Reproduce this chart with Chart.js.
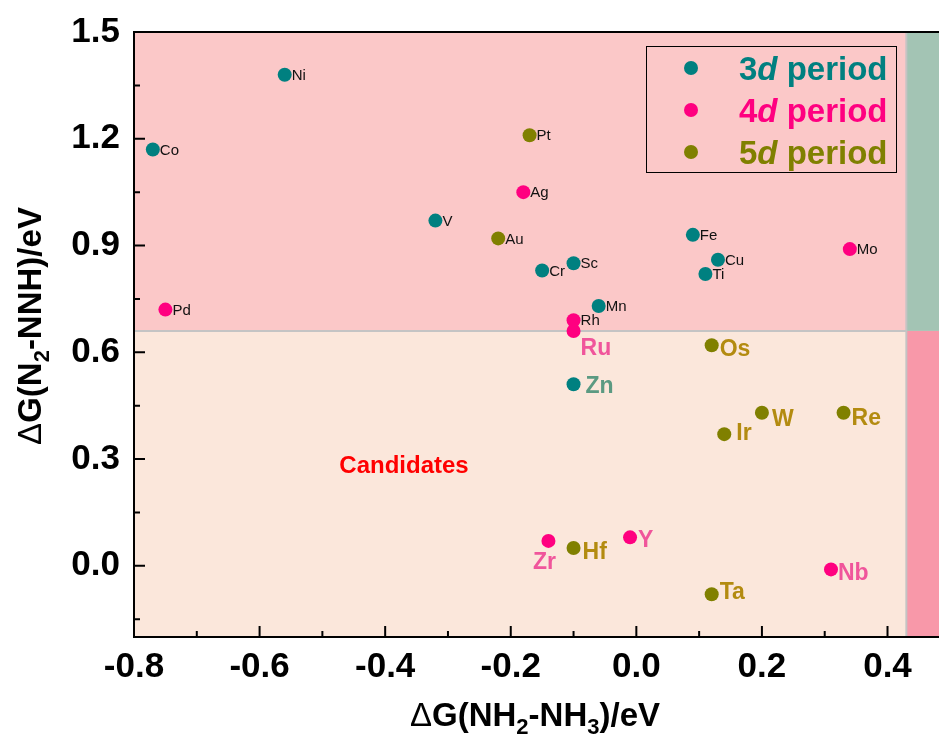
<!DOCTYPE html>
<html>
<head>
<meta charset="utf-8">
<script src="https://cdn.jsdelivr.net/npm/chart.js@4.4.1/dist/chart.umd.min.js"></script>
<style>
  body { margin: 0; background: #fff; overflow: hidden; }
  #wrap { width: 946px; height: 736px; position: relative; }
</style>
</head>
<body>
<div id="wrap"><canvas id="scatterChart"></canvas></div>
<script>
// tick labels
const xTicks = [-0.8, -0.6, -0.4, -0.2, 0.0, 0.2, 0.4]
const yTicks = [0.0, 0.3, 0.6, 0.9, 1.2, 1.5]

// 3d period
const names3d = ['Co', 'Ni', 'V', 'Sc', 'Cr', 'Mn', 'Fe', 'Cu', 'Ti', 'Zn']
const x3d = [-0.77, -0.56, -0.32, -0.10, -0.15, -0.06, 0.09, 0.13, 0.11, -0.10]
const y3d = [1.17, 1.38, 0.97, 0.85, 0.83, 0.73, 0.93, 0.86, 0.82, 0.51]

// 4d period
const names4d = ['Pd', 'Ag', 'Rh', 'Ru', 'Mo', 'Zr', 'Y', 'Nb']
const x4d = [-0.75, -0.18, -0.10, -0.10, 0.34, -0.14, -0.01, 0.31]
const y4d = [0.72, 1.05, 0.69, 0.66, 0.89, 0.07, 0.08, -0.01]

// 5d period
const names5d = ['Pt', 'Au', 'Os', 'W', 'Re', 'Ir', 'Hf', 'Ta']
const x5d = [-0.17, -0.22, 0.12, 0.20, 0.33, 0.14, -0.10, 0.12]
const y5d = [1.21, 0.92, 0.62, 0.43, 0.43, 0.37, 0.05, -0.08]

// region borders (in data units)
const xSplit = 0.43
const ySplit = 0.66

const FONT = "'Liberation Sans', Arial, sans-serif"

// bold labels in the candidate region: [dx, dy, align]
const bigLabels = {
    Ru: [7, 18, 'left'], Zn: [12, 2, 'left'], Os: [8, 4, 'left'], W: [10, 7, 'left'],
    Re: [8, 6, 'left'], Ir: [12, 0, 'left'], Zr: [-4, 22, 'center'], Hf: [9, 5, 'left'],
    Y: [8, 3, 'left'], Nb: [7, 4, 'left'], Ta: [8, -2, 'left']
}

function toPoints(names, xs, ys) {
    return names.map((n, i) => ({ x: xs[i], y: ys[i], name: n }))
}

const series = [
    { label: '3', data: toPoints(names3d, x3d, y3d), color: '#008080', labelColor: '#5B9A82' },
    { label: '4', data: toPoints(names4d, x4d, y4d), color: '#FF0080', labelColor: '#F0559B' },
    { label: '5', data: toPoints(names5d, x5d, y5d), color: '#808000', labelColor: '#B38B10' }
]

// draws text parts (normal / subscript) centred on x, baseline y
function richText(ctx, parts, x, y) {
    let w = 0
    parts.forEach(p => { ctx.font = p.font; w += ctx.measureText(p.t).width })
    let cx = x - w / 2
    parts.forEach(p => {
        ctx.font = p.font
        ctx.fillText(p.t, cx, y + (p.dy || 0))
        cx += ctx.measureText(p.t).width
    })
}

const decor = {
    id: 'decor',
    beforeDatasetsDraw(chart) {
        const ctx = chart.ctx
        const a = chart.chartArea
        const xs = chart.scales.x, ys = chart.scales.y
        const px = xs.getPixelForValue(xSplit)
        const py = ys.getPixelForValue(ySplit)
        ctx.save()
        ctx.fillStyle = '#FBC8C8'; ctx.fillRect(a.left, a.top, px - a.left, py - a.top)
        ctx.fillStyle = '#FBE7DB'; ctx.fillRect(a.left, py, px - a.left, a.bottom - py)
        ctx.fillStyle = '#A3C4B4'; ctx.fillRect(px, a.top, a.right - px, py - a.top)
        ctx.fillStyle = '#F898A9'; ctx.fillRect(px, py, a.right - px, a.bottom - py)
        ctx.strokeStyle = '#C4C4C4'
        ctx.lineWidth = 2
        ctx.beginPath()
        ctx.moveTo(a.left, py); ctx.lineTo(px, py)
        ctx.moveTo(px, a.top); ctx.lineTo(px, a.bottom)
        ctx.stroke()

        ctx.fillStyle = '#FF0000'
        ctx.font = 'bold 24px ' + FONT
        ctx.textAlign = 'center'
        ctx.textBaseline = 'middle'
        ctx.fillText('Candidates', 404, 466)
        ctx.restore()
    },
    afterDatasetsDraw(chart) {
        const ctx = chart.ctx
        const a = chart.chartArea
        const xs = chart.scales.x, ys = chart.scales.y
        ctx.save()

        // point labels
        ctx.textBaseline = 'middle'
        series.forEach((s, di) => {
            const meta = chart.getDatasetMeta(di)
            meta.data.forEach((pt, i) => {
                const name = s.data[i].name
                const big = bigLabels[name]
                if (big) {
                    ctx.font = 'bold 23px ' + FONT
                    ctx.fillStyle = s.labelColor
                    ctx.textAlign = big[2]
                    ctx.fillText(name, pt.x + big[0], pt.y + big[1])
                } else {
                    ctx.font = '15px ' + FONT
                    ctx.fillStyle = '#111'
                    ctx.textAlign = 'left'
                    ctx.fillText(name, pt.x + 7, pt.y + 1)
                }
            })
        })

        // axes and inward ticks
        ctx.strokeStyle = '#000'
        ctx.lineWidth = 2
        ctx.beginPath()
        ctx.moveTo(a.right, a.top); ctx.lineTo(a.left, a.top); ctx.lineTo(a.left, a.bottom); ctx.lineTo(a.right, a.bottom)
        xTicks.forEach(v => {
            const p = xs.getPixelForValue(v)
            ctx.moveTo(p, a.bottom); ctx.lineTo(p, a.bottom - 11)
            const m = xs.getPixelForValue(v + 0.1)
            if (m < a.right) { ctx.moveTo(m, a.bottom); ctx.lineTo(m, a.bottom - 6) }
        })
        yTicks.forEach(v => {
            const p = ys.getPixelForValue(v)
            ctx.moveTo(a.left, p); ctx.lineTo(a.left + 11, p)
            const m = ys.getPixelForValue(v - 0.15)
            if (m < a.bottom) { ctx.moveTo(a.left, m); ctx.lineTo(a.left + 6, m) }
        })
        ctx.stroke()

        // legend
        ctx.lineWidth = 1
        ctx.strokeRect(646.5, 46.5, 250, 126)
        series.forEach((s, i) => {
            const cy = 68 + i * 42
            ctx.fillStyle = s.color
            ctx.beginPath(); ctx.arc(691, cy, 7, 0, Math.PI * 2); ctx.fill()
            ctx.textAlign = 'left'
            ctx.textBaseline = 'alphabetic'
            let x = 739
            ctx.font = 'bold 33px ' + FONT
            ctx.fillText(s.label, x, cy + 12); x += ctx.measureText(s.label).width
            ctx.font = 'italic bold 33px ' + FONT
            ctx.fillText('d', x, cy + 12); x += ctx.measureText('d ').width
            ctx.font = 'bold 33px ' + FONT
            ctx.fillText('period', x, cy + 12)
        })

        // axis titles
        ctx.fillStyle = '#000'
        ctx.textAlign = 'left'
        ctx.textBaseline = 'alphabetic'
        const big = 'bold 33px ' + FONT, sub = 'bold 22px ' + FONT, delta = '33px ' + FONT
        richText(ctx, [
            { t: 'Δ', font: delta }, { t: 'G(NH', font: big }, { t: '2', font: sub, dy: 8 },
            { t: '-NH', font: big }, { t: '3', font: sub, dy: 8 }, { t: ')/eV', font: big }
        ], 535, 726)
        ctx.translate(41, 326)
        ctx.rotate(-Math.PI / 2)
        richText(ctx, [
            { t: 'Δ', font: delta }, { t: 'G(N', font: big }, { t: '2', font: sub, dy: 8 },
            { t: '-NNH)/eV', font: big }
        ], 0, 0)
        ctx.restore()
    }
}

var scatterChart = new Chart(
    document.getElementById('scatterChart'),
    {
        type: 'scatter',
        data: {
            datasets: series.map(s => ({
                label: s.label + 'd period',
                data: s.data,
                backgroundColor: s.color,
                borderWidth: 0,
                pointRadius: 7,
                pointHoverRadius: 7
            }))
        },
        options: {
            responsive: true,
            maintainAspectRatio: false,
            animation: false,
            layout: { padding: { top: 32, right: 0, left: 0, bottom: 0 } },
            plugins: {
                legend: { display: false },
                tooltip: { enabled: false }
            },
            scales: {
                x: {
                    type: 'linear',
                    min: -0.8,
                    max: 0.482,
                    grid: { display: false, drawTicks: false },
                    border: { display: false },
                    afterBuildTicks: s => { s.ticks = xTicks.map(v => ({ value: v })) },
                    afterFit: s => { s.height = 99; s.paddingLeft = 0; s.paddingRight = 0 },
                    ticks: {
                        padding: 9,
                        color: '#000',
                        maxRotation: 0,
                        font: { family: FONT, size: 35, weight: 'bold' },
                        callback: v => v.toFixed(1)
                    }
                },
                y: {
                    type: 'linear',
                    min: -0.2,
                    max: 1.5,
                    grid: { display: false, drawTicks: false },
                    border: { display: false },
                    afterBuildTicks: s => { s.ticks = yTicks.map(v => ({ value: v })) },
                    afterFit: s => { s.width = 134; s.paddingTop = 0; s.paddingBottom = 0 },
                    ticks: {
                        padding: 14,
                        color: '#000',
                        font: { family: FONT, size: 35, weight: 'bold' },
                        callback: v => v.toFixed(1)
                    }
                }
            }
        },
        plugins: [decor]
    }
);
</script>
</body>
</html>
